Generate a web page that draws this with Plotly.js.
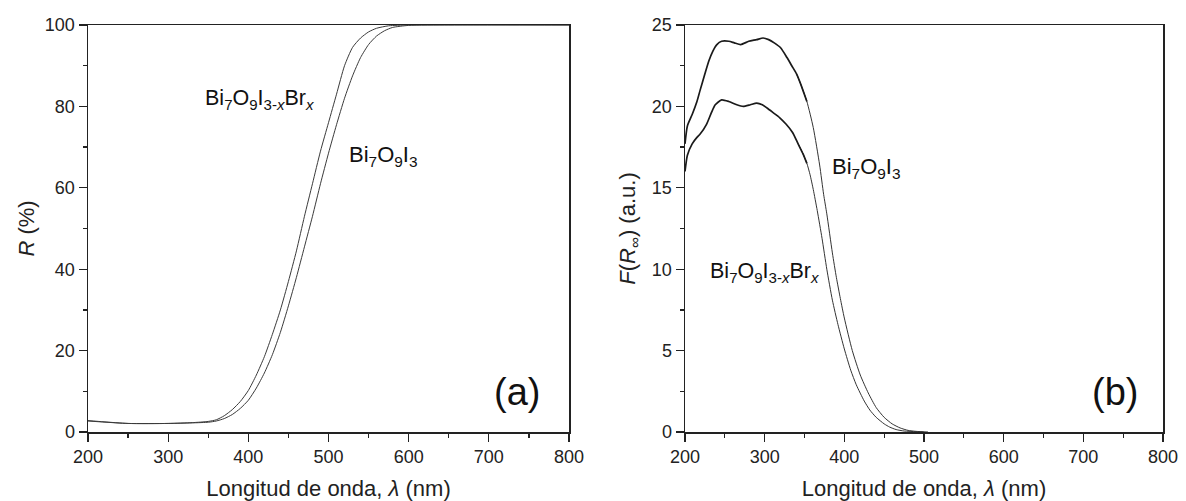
<!DOCTYPE html>
<html>
<head>
<meta charset="utf-8">
<script src="https://cdn.plot.ly/plotly-3.0.1.min.js"></script>
<style>html,body{margin:0;padding:0;background:#fff;}#chart{width:1186px;height:501px;}</style>
</head>
<body>
<div id="chart"></div>
<script>
// Panel (a): reflectance R (%)
const wlR_Br = [200,220,250,300,330,350,360,370,380,390,400,410,420,430,440,450,460,470,480,490,500,510,520,530,540,550,560,575,600,800];
const R_Br   = [2.8,2.5,2.1,2.1,2.3,2.6,3.0,4.0,5.5,7.5,10.2,14,18.5,24,30,37,44.5,53,61,69,76,83,90,94.5,96.8,98.3,99.2,99.8,100,100];
const wlR_I3 = [200,250,300,350,360,370,380,390,400,410,420,430,440,450,460,470,480,490,500,510,520,530,540,550,560,570,580,600,650,800];
const R_I3   = [2.7,2.1,2.1,2.4,2.7,3.3,4.3,5.8,7.8,10.8,14.5,19,24.5,31,38,45.5,53,61,68.5,75.5,82,87.5,92,95.2,97.3,98.6,99.4,99.9,100,100];

// Panel (b): Kubelka-Munk F(R_inf)
const wlF_I3 = [200,203,209,215,219,225,230,235,240,246,255,262,270,280,290,298,305,312,320,328,334,340,345,353,361,369,374,378,385,390,395,400,410,420,430,440,450,460,470,480,490,505];
const F_I3   = [17.7,18.8,19.5,20.3,21.0,22.0,22.8,23.4,23.8,24.0,24.0,23.9,23.8,24.0,24.1,24.2,24.1,23.9,23.6,23.0,22.5,22.0,21.4,20.3,18.7,16.4,14.6,13.4,11.0,9.5,8.2,7.0,5.0,3.5,2.4,1.5,0.9,0.5,0.25,0.1,0.04,0.0];
const wlF_Br = [200,203,209,215,219,227,233,238,246,255,265,273,282,290,297,303,311,319,327,335,342,348,353,357,361,366,372,378,385,392,400,408,415,425,432,440,450,457,465,475,490,500];
const F_Br   = [16.0,17.0,17.7,18.1,18.3,18.9,19.6,20.1,20.4,20.3,20.1,20.0,20.1,20.2,20.1,19.9,19.6,19.3,18.9,18.4,17.7,17.1,16.5,15.8,14.9,13.6,11.9,10.0,8.1,6.6,5.1,3.8,2.9,1.9,1.35,0.9,0.5,0.3,0.15,0.06,0.02,0.0];
// wavelength range where the noisy plateau (heavier line) fades into the thin tail
const plateauEnd = 353;
const tailStart = 340;

const xTicks = [200,300,400,500,600,700,800];
const yTicksA = [0,20,40,60,80,100];
const yTicksB = [0,5,10,15,20,25];

const FONT = 'Liberation Sans, Arial, sans-serif';
const lineA = {color:'#3a3a3a', width:1, shape:'spline', smoothing:0.6};
const lineB1 = {color:'#1a1a1a', width:1.7, shape:'spline', smoothing:0.6};
const lineB2 = {color:'#333', width:1, shape:'spline', smoothing:0.6};

function part(xs, ys, lo, hi){
  const px=[], py=[];
  xs.forEach((v,i)=>{ if(v>=lo && v<=hi){ px.push(v); py.push(ys[i]); } });
  return [px, py];
}
const [i3a_x, i3a_y] = part(wlF_I3, F_I3, 0, plateauEnd);
const [i3b_x, i3b_y] = part(wlF_I3, F_I3, tailStart, 2000);
const [bra_x, bra_y] = part(wlF_Br, F_Br, 0, plateauEnd);
const [brb_x, brb_y] = part(wlF_Br, F_Br, tailStart, 2000);

const traces = [
  {x:wlR_Br, y:R_Br, xaxis:'x', yaxis:'y', mode:'lines', line:lineA, hoverinfo:'skip'},
  {x:wlR_I3, y:R_I3, xaxis:'x', yaxis:'y', mode:'lines', line:lineA, hoverinfo:'skip'},
  {x:i3b_x, y:i3b_y, xaxis:'x2', yaxis:'y2', mode:'lines', line:lineB2, hoverinfo:'skip'},
  {x:brb_x, y:brb_y, xaxis:'x2', yaxis:'y2', mode:'lines', line:lineB2, hoverinfo:'skip'},
  {x:i3a_x, y:i3a_y, xaxis:'x2', yaxis:'y2', mode:'lines', line:lineB1, hoverinfo:'skip'},
  {x:bra_x, y:bra_y, xaxis:'x2', yaxis:'y2', mode:'lines', line:lineB1, hoverinfo:'skip'}
];

function xax(domain, anchor){
  return {
    domain: domain, anchor: anchor, range:[200,800], tickvals:xTicks, ticktext:xTicks.map(String),
    ticks:'outside', ticklen:8, tickwidth:1.3, tickcolor:'#222',
    minor:{ticks:'outside', ticklen:4, dtick:50, tickwidth:1.3, tickcolor:'#222'},
    showline:true, linecolor:'#222', linewidth:1.5, mirror:true, showgrid:false, zeroline:false,
    tickfont:{family:FONT, size:18, color:'#222'},
    title:{text:'Longitud de onda, <i>λ</i> (nm)', font:{family:FONT, size:22, color:'#222'}, standoff:17},
    automargin:false
  };
}
function yax(domain, anchor, range, ticks, minorDt, title, standoff){
  return {
    domain: domain, anchor: anchor, range:range, tickvals:ticks, ticktext:ticks.map(String),
    ticks:'outside', ticklen:8, tickwidth:1.3, tickcolor:'#222',
    minor:{ticks:'outside', ticklen:4, dtick:minorDt, tickwidth:1.3, tickcolor:'#222'},
    showline:true, linecolor:'#222', linewidth:1.5, mirror:true, showgrid:false, zeroline:false,
    tickfont:{family:FONT, size:18, color:'#222'},
    title:{text:title, font:{family:FONT, size:22, color:'#222'}, standoff:standoff},
    automargin:false
  };
}

const yDom = [(501-432)/501, (501-25)/501];
const layout = {
  width:1186, height:501,
  margin:{l:0, r:0, t:0, b:0},
  paper_bgcolor:'#fff', plot_bgcolor:'#fff',
  showlegend:false,
  xaxis: xax([88/1186, 569/1186], 'y'),
  yaxis: yax(yDom, 'x', [0,100], yTicksA, 10, '<i>R</i> (%)', 4),
  xaxis2: xax([685/1186, 1163/1186], 'y2'),
  yaxis2: yax(yDom, 'x2', [0,25], yTicksB, 2.5, '<i>F</i>(<i>R</i><sub>∞</sub>) (a.u.)', 10),
  annotations:[
    {xref:'x', yref:'y', x:343, y:81.8, xanchor:'left', yanchor:'middle', showarrow:false,
     text:'Bi<sub>7</sub>O<sub>9</sub>I<sub>3-<i>x</i></sub>Br<sub><i>x</i></sub>', font:{family:FONT, size:21.5, color:'#111'}},
    {xref:'x', yref:'y', x:523, y:67.7, xanchor:'left', yanchor:'middle', showarrow:false,
     text:'Bi<sub>7</sub>O<sub>9</sub>I<sub>3</sub>', font:{family:FONT, size:22, color:'#111'}},
    {xref:'x domain', yref:'y domain', x:0.944, y:0.098, xanchor:'right', yanchor:'middle', showarrow:false,
     text:'(a)', font:{family:FONT, size:38, color:'#111'}},
    {xref:'x2', yref:'y2', x:382, y:16.2, xanchor:'left', yanchor:'middle', showarrow:false,
     text:'Bi<sub>7</sub>O<sub>9</sub>I<sub>3</sub>', font:{family:FONT, size:22, color:'#111'}},
    {xref:'x2', yref:'y2', x:229, y:9.8, xanchor:'left', yanchor:'middle', showarrow:false,
     text:'Bi<sub>7</sub>O<sub>9</sub>I<sub>3-<i>x</i></sub>Br<sub><i>x</i></sub>', font:{family:FONT, size:21.5, color:'#111'}},
    {xref:'x2 domain', yref:'y2 domain', x:0.952, y:0.098, xanchor:'right', yanchor:'middle', showarrow:false,
     text:'(b)', font:{family:FONT, size:38, color:'#111'}}
  ]
};

Plotly.newPlot('chart', traces, layout, {staticPlot:true, displayModeBar:false});
</script>
</body>
</html>
